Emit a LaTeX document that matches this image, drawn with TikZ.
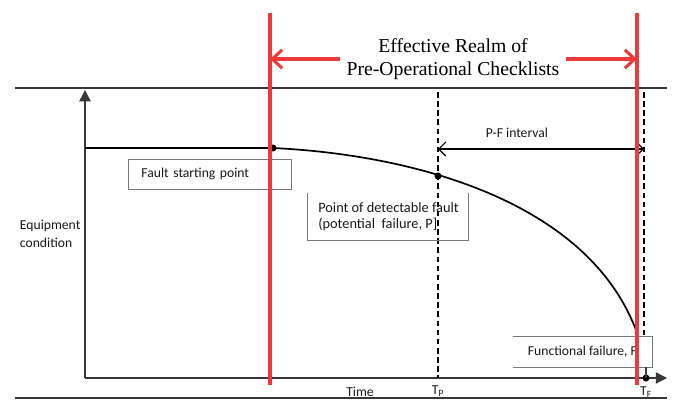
\documentclass[tikz,border=0pt]{standalone}
\usepackage{fontspec}
\setmainfont{Liberation Serif}
\newfontfamily\labelfont{Carlito}
\usetikzlibrary{arrows.meta, positioning, calc}
\definecolor{realmcolor}{RGB}{234, 58, 58}
\definecolor{axiscolor}{RGB}{55, 55, 55}
\definecolor{boxcolor}{RGB}{120, 120, 120}
\definecolor{labelcolor}{RGB}{25, 25, 25}
\tikzset{
    % Lines
    axisline/.style={line width=1pt, draw=axiscolor},
    axisarrow/.style={axisline, -{Triangle[length=8pt, width=8pt]}},
    framerule/.style={line width=0.9pt, draw=axiscolor},
    curveline/.style={line width=1.2pt, draw=black},
    dashedline/.style={line width=1.3pt, draw=black, dash pattern=on 4pt off 2.5pt},
    pfarrow/.style={line width=0.8pt, draw=black, {Straight Barb[length=5pt, width=10pt]}-{Straight Barb[length=5pt, width=10pt]}},
    % Realm markers
    realmline/.style={line width=2.6pt, draw=realmcolor},
    realmarrow/.style={line width=2.2pt, draw=realmcolor, -{Straight Barb[length=7pt, width=13pt]}},
    % Points and boxes
    dotnode/.style={circle, fill=black, inner sep=0pt, minimum size=5pt},
    boxline/.style={line width=0.7pt, draw=boxcolor},
    labelbox/.style={boxline, inner xsep=0.325cm, text width=3.425cm, align=left, minimum height=0.75cm},
    titlelabel/.style={font=\fontsize{14}{16.4}\selectfont, text=black, align=center, inner xsep=4.6pt, inner ysep=0pt},
}

\begin{document}
\begin{tikzpicture}[x=0.025cm, y=-0.025cm, every node/.style={font=\labelfont\fontsize{9.7}{12.8}\selectfont, text=labelcolor}]
\useasboundingbox (0,0) rectangle (677,417);

% ===== Frame rules =====
\coordinate (top-l) at (15,88);
\coordinate (top-r) at (667,88);
\coordinate (bot-l) at (15,398);
\coordinate (bot-r) at (667,398);
\draw[framerule] (top-l) -- (top-r);
\draw[framerule] (bot-l) -- (bot-r);

% ===== Axes =====
\coordinate (origin) at (85,378);
\coordinate (ytop) at (85,90);
\coordinate (xend) at (667,378);
\draw[axisarrow] (origin) -- (ytop);
\draw[axisarrow] (origin) -- (xend);

\node (ylabel) [anchor=west, align=left] at (15,234) {Equipment\\condition};
\node (xlabel) at (360,392) {Time};

% ===== Condition curve =====
\node (fstart) [dotnode] at (273,148) {};
\coordinate (fend) at (641,345);
\draw[curveline] (origin |- fstart) -- (fstart.center);
\draw[curveline] (fstart.center) .. controls (420,155) and (600,205) .. (fend);
\node (pdot) [dotnode] at (438,176) {};

% ===== T_P and T_F =====
\coordinate (tp-top) at (438,92);
\coordinate (tf-top) at (644,92);
\node (tfdot) [dotnode] at (646,378) {};
\draw[dashedline] (tp-top) -- (tp-top |- origin);
\node (tp) at (438,391) {T\textsubscript{P}};
\node (tf) at (646,392) {T\textsubscript{F}};

% P-F interval
\coordinate (pf-l) at (438,149);
\coordinate (pf-r) at (644,149);
\draw[pfarrow] (pf-l) -- (pf-r);
\node (pflabel) at (517,133) {P-F interval};

% ===== Labels =====
\node (fsbox) [labelbox, anchor=west] at (128,174) {Fault starting point};

\coordinate (pd-nw) at (307,193);
\coordinate (pd-se) at (468,240);
\draw[boxline] (pd-nw) -- (pd-nw |- pd-se) -- (pd-se) -- (pd-se |- pd-nw);
\node (pdlabel) [anchor=west, align=left, inner sep=0pt, font=\labelfont\fontsize{10.2}{11}\selectfont] at (318,216.5) {Point of detectable fault\\(potential \ failure, P]};

\node (ffbox) [fill=white, minimum width=3.475cm, minimum height=0.75cm, inner sep=0pt] at (582.5,352) {Functional failure, F};
\draw[dashedline] (tf-top) -- (tf-top |- ffbox.north);
\draw[boxline] (ffbox.north west) -- (ffbox.north east) -- (ffbox.south east) -- (ffbox.south west);
\draw[axisline] (tfdot |- ffbox.south) -- (tfdot.center);

% ===== Effective realm =====
\coordinate (realm-l-top) at (270,13);
\coordinate (realm-l-bot) at (270,385);
\coordinate (realm-r-top) at (637,13);
\coordinate (realm-r-bot) at (637,385);
\draw[realmline] (realm-l-top) -- (realm-l-bot);
\draw[realmline] (realm-r-top) -- (realm-r-bot);

\node (realm) [titlelabel] at (453,59) {Effective Realm of\\Pre-Operational Checklists};
\draw[realmarrow] (realm.west) -- (realm-l-top |- realm.west);
\draw[realmarrow] (realm.east) -- (realm-r-top |- realm.east);

\end{tikzpicture}
\end{document}
